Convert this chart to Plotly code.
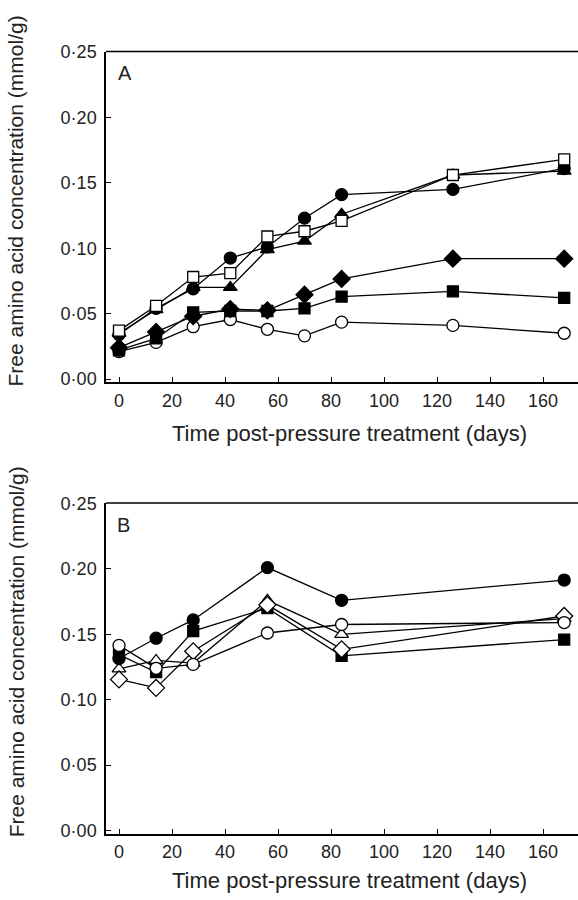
import plotly.graph_objects as go
from plotly.subplots import make_subplots

# ---------------- data ----------------
days_a = [0, 14, 28, 42, 56, 70, 84, 126, 168]
a_filled_circle = [0.034, 0.054, 0.069, 0.0925, 0.101, 0.123, 0.141, 0.145, 0.161]
a_open_square = [0.037, 0.056, 0.078, 0.081, 0.109, 0.113, 0.121, 0.156, 0.168]
a_filled_triangle = [0.035, 0.053, 0.070, 0.070, 0.099, 0.1055, 0.126, 0.156, 0.159]
a_filled_diamond = [0.024, 0.036, 0.048, 0.0535, 0.0525, 0.0645, 0.0765, 0.092, 0.092]
a_filled_square = [0.022, 0.031, 0.051, 0.052, 0.052, 0.054, 0.063, 0.067, 0.062]
a_open_circle = [0.021, 0.028, 0.040, 0.0455, 0.038, 0.033, 0.0435, 0.041, 0.035]

days_b = [0, 14, 28, 56, 84, 168]
b_filled_circle = [0.1315, 0.147, 0.161, 0.201, 0.176, 0.1915]
b_open_triangle = [0.1235, 0.130, 0.128, 0.176, 0.150, 0.162]
b_filled_square = [0.1345, 0.121, 0.1525, 0.170, 0.1335, 0.146]
b_open_diamond = [0.1155, 0.109, 0.137, 0.1725, 0.1385, 0.164]
b_open_circle = [0.1415, 0.124, 0.127, 0.151, 0.1575, 0.159]

y_tickvals = [0.00, 0.05, 0.10, 0.15, 0.20, 0.25]
y_ticktext = ["0·00", "0·05", "0·10", "0·15", "0·20", "0·25"]
x_tickvals = [0, 20, 40, 60, 80, 100, 120, 140, 160]

x_title = "Time post-pressure treatment (days)"
y_title = "Free amino acid concentration (mmol/g)"

# ---------------- figure ----------------
W, H = 578, 900
FONT = "Liberation Sans, Arial, Helvetica, sans-serif"
TXT = "#222222"

fig = make_subplots(rows=2, cols=1)

def add(row, x, y, symbol, size, filled):
    fig.add_trace(go.Scatter(
        x=x, y=y, mode="lines+markers",
        line=dict(color="black", width=1.3),
        marker=dict(symbol=symbol, size=size,
                    color="black" if filled else "white",
                    line=dict(color="black", width=1.3)),
        showlegend=False, cliponaxis=False), row=row, col=1)

add(1, days_a, a_open_circle, "circle", 12, False)
add(1, days_a, a_filled_square, "square", 11, True)
add(1, days_a, a_filled_diamond, "diamond", 13, True)
add(1, days_a, a_filled_triangle, "triangle-up", 12, True)
add(1, days_a, a_filled_circle, "circle", 12, True)
add(1, days_a, a_open_square, "square", 11, False)

add(2, days_b, b_filled_square, "square", 11, True)
add(2, days_b, b_open_triangle, "triangle-up", 12, False)
add(2, days_b, b_open_diamond, "diamond", 13, False)
add(2, days_b, b_open_circle, "circle", 12, False)
add(2, days_b, b_filled_circle, "circle", 12, True)

# geometry (pixels)
left_px = 106
x0_px, px_per_day = 119, 2.65
x_lo = (left_px - x0_px) / px_per_day
x_hi = (W - x0_px) / px_per_day
px_per_unit = 66.67 / 0.05

def yspec(top_px, zero_px, bottom_px):
    ymax = (zero_px - top_px) / px_per_unit
    ymin = -(bottom_px - zero_px) / px_per_unit
    dom = [1 - bottom_px / H, 1 - top_px / H]
    return [ymin, ymax + 0.0004], dom

rngA, domA = yspec(43.3, 376.7, 380)
rngB, domB = yspec(503, 836.3, 840)

axis_common = dict(showline=True, linecolor="black", linewidth=1.5,
                   ticks="inside", ticklen=5, tickcolor="black", tickwidth=1.2,
                   showgrid=False, zeroline=False,
                   tickfont=dict(family=FONT, size=18, color=TXT))

for i, (rng, dom) in enumerate([(rngA, domA), (rngB, domB)], start=1):
    fig.update_xaxes(row=i, col=1, range=[x_lo, x_hi], tickvals=x_tickvals,
                     mirror=False, ticklabelstandoff=1, domain=[left_px / W, 1.0],
                     **axis_common)
    fig.update_yaxes(row=i, col=1, range=rng, domain=dom, tickvals=y_tickvals,
                     ticktext=y_ticktext, ticklabelstandoff=4, **axis_common)

fig.update_layout(
    width=W, height=H, margin=dict(l=0, r=0, t=0, b=0),
    paper_bgcolor="white", plot_bgcolor="white",
    font=dict(family=FONT, color=TXT),
)

# top border line of each panel (box open at right)
shapes = []
for dom in (domA, domB):
    shapes.append(dict(type="line", xref="paper", yref="paper",
                       x0=left_px / W, x1=1.0, y0=dom[1], y1=dom[1],
                       line=dict(color="black", width=1.5)))
fig.update_layout(shapes=shapes)

def ann(text, x, y, size, angle=0):
    fig.add_annotation(text=text, xref="paper", yref="paper",
                       x=x / W, y=1 - y / H, showarrow=False,
                       textangle=angle, xanchor="center", yanchor="middle",
                       font=dict(family=FONT, size=size, color=TXT))

ann(x_title, 349, 432, 22)
ann(x_title, 349, 887, 22)
ann(y_title, 16, 196, 21, -90)
ann(y_title, 16, 655, 21, -90)
ann("A", 125, 65, 20)
ann("B", 123, 525, 20)

fig.write_html("out.html")
